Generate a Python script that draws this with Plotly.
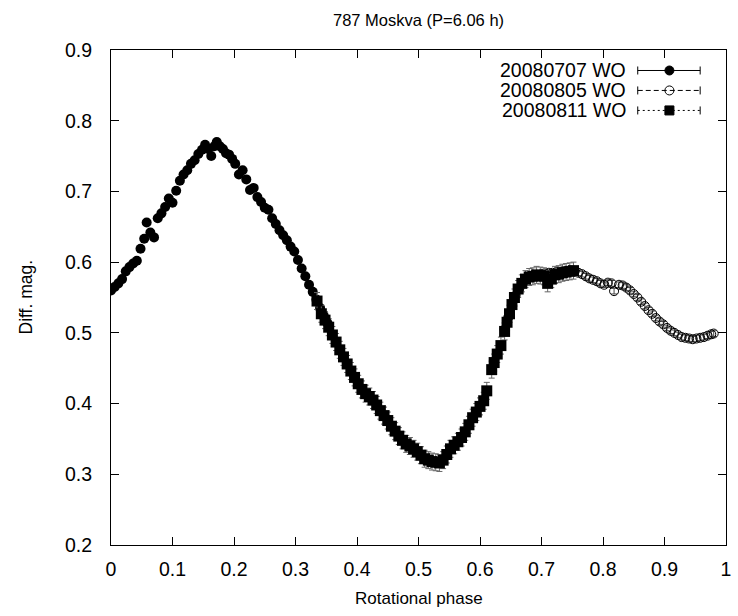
import plotly.graph_objects as go

title_text = "787 Moskva (P=6.06 h)"
x_title = "Rotational phase"
y_title = "Diff. mag."
series_names = ["20080707 WO", "20080805 WO", "20080811 WO"]
x_ticks = [0, 0.1, 0.2, 0.3, 0.4, 0.5, 0.6, 0.7, 0.8, 0.9, 1]
x_ticklabels = ["0", "0.1", "0.2", "0.3", "0.4", "0.5", "0.6", "0.7", "0.8", "0.9", "1"]
y_ticks = [0.2, 0.3, 0.4, 0.5, 0.6, 0.7, 0.8, 0.9]
y_ticklabels = ["0.2", "0.3", "0.4", "0.5", "0.6", "0.7", "0.8", "0.9"]

# 20080707 WO (filled circles)
phase1 = [0.000, 0.006, 0.012, 0.018, 0.024, 0.030, 0.036, 0.042, 0.048, 0.054,
          0.058, 0.064, 0.070, 0.076, 0.082, 0.088, 0.094, 0.100, 0.106, 0.112,
          0.118, 0.124, 0.130, 0.136, 0.142, 0.148, 0.153, 0.158, 0.163, 0.168,
          0.172, 0.177, 0.182, 0.187, 0.192, 0.197, 0.202, 0.208, 0.214, 0.220,
          0.226, 0.232, 0.238, 0.244, 0.250, 0.256, 0.262, 0.268, 0.274, 0.280,
          0.286, 0.292, 0.298, 0.304, 0.310, 0.316, 0.322, 0.328, 0.334, 0.340,
          0.346, 0.352]
mag1 = [0.560, 0.565, 0.570, 0.576, 0.587, 0.593, 0.598, 0.602, 0.619, 0.633,
        0.656, 0.642, 0.635, 0.662, 0.669, 0.678, 0.690, 0.684, 0.701, 0.715,
        0.724, 0.730, 0.739, 0.744, 0.753, 0.759, 0.766, 0.760, 0.750, 0.764,
        0.770, 0.764, 0.760, 0.754, 0.752, 0.746, 0.739, 0.724, 0.730, 0.717,
        0.702, 0.705, 0.692, 0.685, 0.677, 0.674, 0.662, 0.654, 0.645, 0.638,
        0.631, 0.622, 0.615, 0.603, 0.591, 0.580, 0.568, 0.558, 0.547, 0.535,
        0.524, 0.514]

# 20080805 WO (open circles)
phase2 = [0.640, 0.646, 0.652, 0.658, 0.664, 0.670, 0.676, 0.682, 0.688, 0.694,
          0.700, 0.706, 0.712, 0.718, 0.724, 0.730, 0.736, 0.742, 0.748, 0.754,
          0.760, 0.766, 0.772, 0.778, 0.784, 0.790, 0.796, 0.802, 0.808, 0.814,
          0.818, 0.826, 0.832, 0.838, 0.844, 0.850, 0.856, 0.862, 0.868, 0.874,
          0.880, 0.886, 0.892, 0.898, 0.904, 0.910, 0.916, 0.922, 0.928, 0.934,
          0.940, 0.946, 0.952, 0.958, 0.964, 0.970, 0.976, 0.980]
mag2 = [0.505, 0.522, 0.540, 0.553, 0.563, 0.571, 0.576, 0.579, 0.581, 0.582,
        0.583, 0.584, 0.585, 0.585, 0.586, 0.586, 0.587, 0.587, 0.588, 0.587,
        0.585, 0.583, 0.580, 0.577, 0.575, 0.573, 0.570, 0.568, 0.571, 0.570,
        0.559, 0.568, 0.567, 0.564, 0.560, 0.555, 0.550, 0.544, 0.538, 0.532,
        0.527, 0.521, 0.516, 0.512, 0.507, 0.503, 0.500, 0.497, 0.494, 0.493,
        0.492, 0.491, 0.492, 0.493, 0.494, 0.496, 0.498, 0.499]

# 20080811 WO (filled squares)
phase3 = [0.335, 0.342, 0.348, 0.354, 0.360, 0.366, 0.372, 0.378, 0.384, 0.390,
          0.396, 0.402, 0.408, 0.414, 0.420, 0.426, 0.432, 0.438, 0.444, 0.450,
          0.456, 0.462, 0.468, 0.474, 0.480, 0.486, 0.492, 0.498, 0.504, 0.510,
          0.516, 0.522, 0.528, 0.534, 0.540, 0.546, 0.552, 0.558, 0.564, 0.570,
          0.576, 0.582, 0.588, 0.594, 0.600, 0.606, 0.611, 0.619, 0.623, 0.628,
          0.634, 0.640, 0.644, 0.648, 0.652, 0.656, 0.662, 0.668, 0.674, 0.680,
          0.686, 0.692, 0.698, 0.704, 0.710, 0.716, 0.722, 0.728, 0.734, 0.740,
          0.746, 0.752]
mag3 = [0.545, 0.527, 0.518, 0.508, 0.497, 0.487, 0.476, 0.466, 0.456, 0.446,
        0.437, 0.428, 0.420, 0.414, 0.410, 0.405, 0.398, 0.390, 0.383, 0.376,
        0.368, 0.361, 0.354, 0.348, 0.343, 0.340, 0.336, 0.332, 0.327, 0.322,
        0.320, 0.318, 0.317, 0.316, 0.320, 0.328, 0.336, 0.341, 0.346, 0.352,
        0.360, 0.370, 0.380, 0.388, 0.396, 0.404, 0.418, 0.448, 0.458, 0.470,
        0.482, 0.502, 0.515, 0.527, 0.540, 0.550, 0.562, 0.570, 0.576, 0.579,
        0.580, 0.582, 0.581, 0.580, 0.570, 0.576, 0.582, 0.583, 0.585, 0.586,
        0.587, 0.588]

FONT = "Liberation Sans, Arial, sans-serif"
FS_TICK = 19.5
FS_TITLE = 16.5

fig = go.Figure()
fig.add_trace(go.Scatter(
    x=phase1, y=mag1, mode="markers", name=series_names[0], showlegend=False,
    marker=dict(symbol="circle", size=10, color="black"),
    error_y=dict(type="constant", value=0.003, color="black", thickness=1, width=3),
))
fig.add_trace(go.Scatter(
    x=phase2, y=mag2, mode="markers", name=series_names[1], showlegend=False,
    marker=dict(symbol="circle-open", size=9, color="black", line=dict(width=1, color="black")),
    error_y=dict(type="constant", value=0.004, color="#444", thickness=1, width=3),
))
fig.add_trace(go.Scatter(
    x=phase3, y=mag3, mode="markers", name=series_names[2], showlegend=False,
    marker=dict(symbol="square", size=11, color="black"),
    error_y=dict(type="constant", value=0.012, color="#666", thickness=1, width=3),
))

# custom legend (text left of sample, gnuplot style)
leg_text_x = 0.840
leg_rows = [0.9586, 0.9183, 0.8779]
line_x0, line_x1, mark_x = 0.8565, 0.958, 0.908
dashes = ["solid", "5px,3px", "2px,3px"]
shapes = []
annotations = []
for i, name in enumerate(series_names):
    yy = leg_rows[i]
    annotations.append(dict(text=name, x=leg_text_x, y=yy, xref="paper", yref="paper",
                            xanchor="right", yanchor="middle", showarrow=False,
                            font=dict(family=FONT, size=FS_TICK, color="black")))
    shapes.append(dict(type="line", xref="paper", yref="paper", x0=line_x0, x1=line_x1,
                       y0=yy, y1=yy, line=dict(color="black", width=1, dash=dashes[i])))
    for xe in (line_x0, line_x1):
        shapes.append(dict(type="line", xref="paper", yref="paper", xsizemode="scaled",
                           ysizemode="pixel", yanchor=yy, x0=xe, x1=xe, y0=-4, y1=4,
                           line=dict(color="black", width=1)))
    if i == 0:
        shapes.append(dict(type="circle", xref="paper", yref="paper", xsizemode="pixel",
                           ysizemode="pixel", xanchor=mark_x, yanchor=yy, x0=-4.5, x1=4.5,
                           y0=-4.5, y1=4.5, fillcolor="black", line=dict(color="black", width=1)))
    elif i == 1:
        shapes.append(dict(type="circle", xref="paper", yref="paper", xsizemode="pixel",
                           ysizemode="pixel", xanchor=mark_x, yanchor=yy, x0=-4.5, x1=4.5,
                           y0=-4.5, y1=4.5, fillcolor="rgba(0,0,0,0)", line=dict(color="black", width=1)))
    else:
        shapes.append(dict(type="rect", xref="paper", yref="paper", xsizemode="pixel",
                           ysizemode="pixel", xanchor=mark_x, yanchor=yy, x0=-4.5, x1=4.5,
                           y0=-4.5, y1=4.5, fillcolor="black", line=dict(color="black", width=1)))

annotations += [
    dict(text=title_text, x=0.5, y=1, xref="paper", yref="paper", xanchor="center",
         yanchor="middle", yshift=30.5, showarrow=False,
         font=dict(family=FONT, size=FS_TITLE, color="black")),
    dict(text=x_title, x=0.5, y=0, xref="paper", yref="paper", xanchor="center",
         yanchor="middle", yshift=-53, showarrow=False,
         font=dict(family=FONT, size=17, color="black")),
    dict(text=y_title, x=0, y=0.5, xref="paper", yref="paper", xanchor="center",
         yanchor="middle", xshift=-86, textangle=-90, showarrow=False,
         font=dict(family=FONT, size=17.5, color="black")),
]

axis_common = dict(showline=True, linecolor="black", linewidth=1, mirror="ticks",
                   ticks="inside", ticklen=8, tickwidth=1, tickcolor="black",
                   showgrid=False, zeroline=False,
                   tickfont=dict(family=FONT, size=FS_TICK, color="black"))

fig.update_layout(
    width=738, height=616,
    margin=dict(l=111, r=7, t=50, b=71, pad=0),
    paper_bgcolor="white", plot_bgcolor="white",
    xaxis=dict(range=[0, 1], tickvals=x_ticks, ticktext=x_ticklabels,
               ticklabelstandoff=7, **axis_common),
    yaxis=dict(range=[0.2, 0.9], tickvals=y_ticks, ticktext=y_ticklabels,
               ticklabelstandoff=14, **axis_common),
    shapes=shapes, annotations=annotations,
    showlegend=False,
)

fig.write_html("out.html")
